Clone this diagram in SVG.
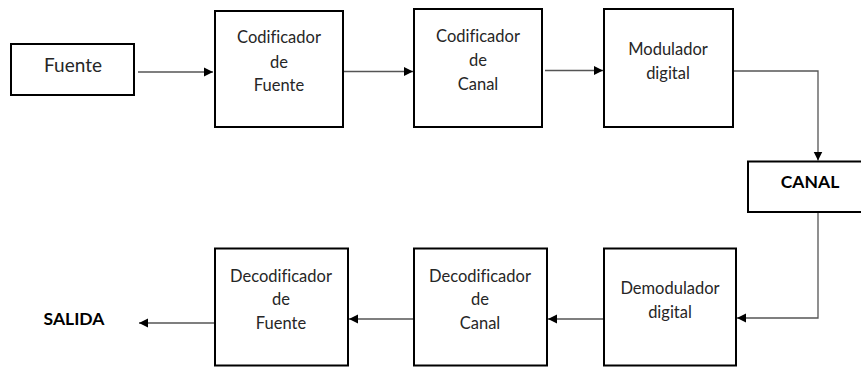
<svg xmlns="http://www.w3.org/2000/svg" width="861" height="370" viewBox="0 0 861 370">
  <style>
    text { font-family: Lato, "Liberation Sans", sans-serif; text-anchor: middle; font-variant-ligatures: none; }
    .box { fill: #ffffff; stroke: #000000; stroke-width: 2; }
    .lbl { font-size: 16.5px; fill: #262626; }
    .big { font-size: 19px; fill: #262626; }
    .bold { font-size: 17.5px; font-weight: bold; fill: #000000; }
    .wire { fill: none; stroke: #555555; stroke-width: 1.3; marker-end: url(#head); }
  </style>
  <defs>
    <marker id="head" viewBox="0 0 10 10" refX="10" refY="5" markerWidth="9" markerHeight="10" markerUnits="userSpaceOnUse" orient="auto">
      <path d="M0,0 L10,5 L0,10 Z" fill="#000000"/>
    </marker>
  </defs>

  <rect width="861" height="370" fill="#ffffff"/>

  <g id="connectors">
    <path class="wire" d="M138,72 H213"/>
    <path class="wire" d="M343,71.5 H413"/>
    <path class="wire" d="M545,70.5 H603"/>
    <path class="wire" d="M734,71 H818 V160.5"/>
    <path class="wire" d="M818,212 V318 H737"/>
    <path class="wire" d="M604,319 H548"/>
    <path class="wire" d="M413,319 H349"/>
    <path class="wire" d="M214,323 H139"/>
  </g>

  <g id="fuente">
    <rect class="box" x="11" y="44" width="123" height="51"/>
    <text class="big" x="73" y="72">Fuente</text>
  </g>

  <g id="codificador-fuente">
    <rect class="box" x="215" y="11" width="128" height="116"/>
    <text class="lbl" x="279" y="43">Codificador</text>
    <text class="lbl" x="279" y="68">de</text>
    <text class="lbl" x="279" y="91">Fuente</text>
  </g>

  <g id="codificador-canal">
    <rect class="box" x="414" y="9" width="128" height="118"/>
    <text class="lbl" x="478" y="42">Codificador</text>
    <text class="lbl" x="478" y="66">de</text>
    <text class="lbl" x="478" y="90">Canal</text>
  </g>

  <g id="modulador">
    <rect class="box" x="604" y="9" width="129" height="118"/>
    <text class="lbl" x="668" y="55">Modulador</text>
    <text class="lbl" x="668" y="79">digital</text>
  </g>

  <g id="canal">
    <rect class="box" x="748" y="161.5" width="120" height="50.5"/>
    <text class="bold" x="810" y="188">CANAL</text>
  </g>

  <g id="demodulador">
    <rect class="box" x="604" y="248.5" width="132" height="117"/>
    <text class="lbl" x="670" y="294">Demodulador</text>
    <text class="lbl" x="670" y="318">digital</text>
  </g>

  <g id="decodificador-canal">
    <rect class="box" x="414" y="248.5" width="133" height="117"/>
    <text class="lbl" x="480" y="282">Decodificador</text>
    <text class="lbl" x="480" y="305">de</text>
    <text class="lbl" x="480" y="329">Canal</text>
  </g>

  <g id="decodificador-fuente">
    <rect class="box" x="215" y="248.5" width="133" height="117"/>
    <text class="lbl" x="281" y="282">Decodificador</text>
    <text class="lbl" x="281" y="305">de</text>
    <text class="lbl" x="281" y="329">Fuente</text>
  </g>

  <g id="salida">
    <text class="bold" x="74" y="325">SALIDA</text>
  </g>
</svg>
